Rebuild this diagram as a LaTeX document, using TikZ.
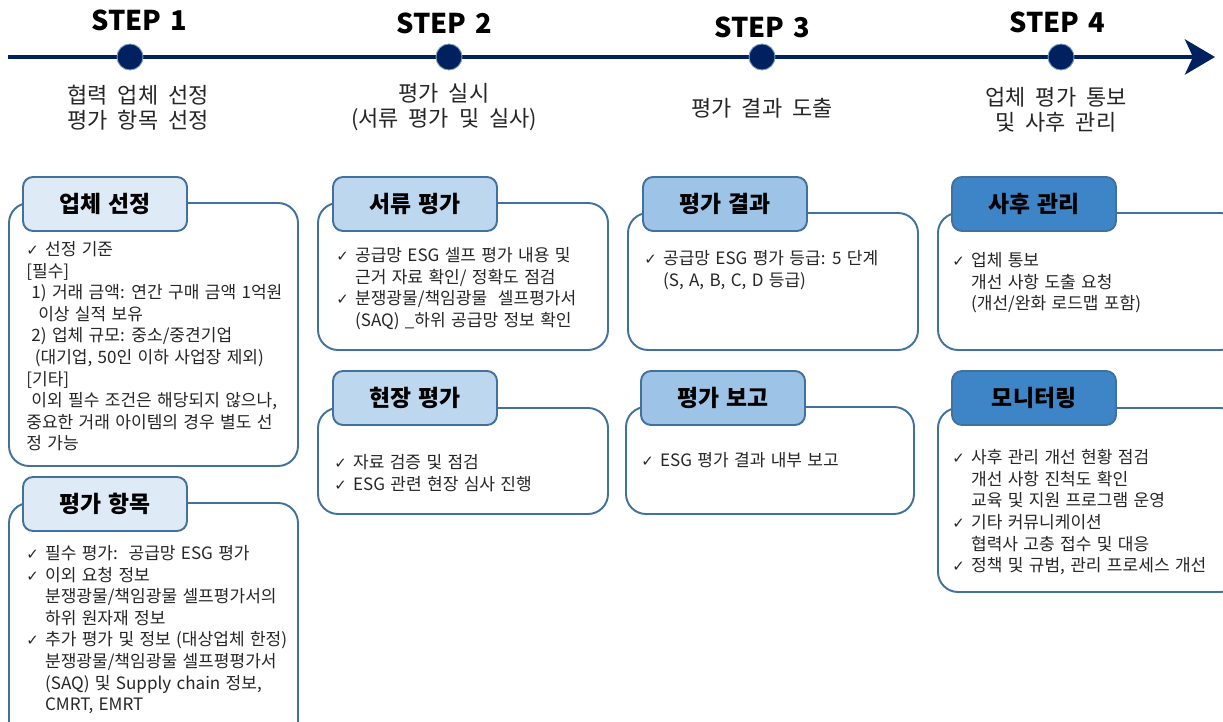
\documentclass[tikz,border=0pt]{standalone}
\usepackage{fontspec}
\setmainfont[WordSpace=1.4]{Noto Sans CJK KR}
\newfontfamily\notefont[WordSpace=2]{Noto Sans CJK KR}
\newfontfamily\symfont{DejaVu Sans}
\usetikzlibrary{arrows.meta}

\definecolor{navy}{HTML}{002060}
\definecolor{edge}{HTML}{41719C}
\definecolor{tabA}{HTML}{DEEBF7}
\definecolor{tabB}{HTML}{BDD7EE}
\definecolor{tabC}{HTML}{9DC3E6}
\definecolor{tabD}{HTML}{3D85C6}

\newcommand{\ck}{\makebox[1.1em][l]{\symfont\fontsize{8.5}{8}\selectfont ✓}}
\newcommand{\ind}{\hspace*{1.1em}}

\tikzset{
  panel/.style={draw=edge, line width=1.1pt, rounded corners=0.4cm, fill=white},
  tabbox/.style={draw=edge, line width=1.1pt, rounded corners=0.2cm,
    minimum width=3.28cm, minimum height=1.08cm, inner sep=0pt,
    font=\fontsize{13}{15}\selectfont\bfseries},
  itemtext/.style={anchor=north west, inner sep=0pt, align=left,
    text=black!85, font=\fontsize{9.7}{12.3}\selectfont},
  steplabel/.style={font=\fontsize{15.5}{18}\selectfont\bfseries},
  stepnote/.style={align=center, text=black!85, font=\notefont\fontsize{12.5}{14.2}\selectfont},
  stepdot/.style={circle, fill=navy, draw=edge!70, line width=0.5pt,
    minimum size=0.52cm, inner sep=0pt},
}

\begin{document}
\begin{tikzpicture}[x=0.02cm, y=-0.02cm]
    \useasboundingbox (0,0) rectangle (1223,722);
    \clip (0,0) rectangle (1223,722);

    % timeline
    \coordinate (start) at (8,57);
    \coordinate (tip) at (1215,57);
    \draw[navy, line width=2.8pt, -{Stealth[length=0.6cm, width=0.7cm, inset=0.16cm]}] (start) -- (tip);

    \foreach \x/\n/\lx/\ly in {130/1/139/20, 449/2/444/23, 762/3/762/27, 1061/4/1057/22}{
        \node[stepdot] (dot\n) at (\x,57) {};
        \node[steplabel] (step\n) at (\lx,\ly) {STEP \n};
    }

    \node[stepnote] (note1) at (138,108) {협력 업체 선정\\평가 항목 선정};
    \node[stepnote] (note2) at (444,107) {평가 실시\\(서류 평가 및 실사)};
    \node[stepnote] (note3) at (762,108) {평가 결과 도출};
    \node[stepnote] (note4) at (1056,110) {업체 평가 통보\\및 사후 관리};

    % column 1
    \draw[panel] (9,203) rectangle (298,466);
    \node[tabbox, fill=tabA] (select) at (105,204) {업체 선정};
    \node[itemtext] (selecttxt) at (26,241) {\ck 선정 기준\\
        {[}필수{]}\\
        \hspace*{0.3em}1) 거래 금액: 연간 구매 금액 1억원\\
        \hspace*{0.7em}이상 실적 보유\\
        \hspace*{0.3em}2) 업체 규모: 중소/중견기업\\
        \hspace*{0.5em}(대기업, 50인 이하 사업장 제외)\\
        {[}기타{]}\\
        \hspace*{0.3em}이외 필수 조건은 해당되지 않으나,\\
        중요한 거래 아이템의 경우 별도 선\\
        정 가능};

    \draw[panel] (9,503) rectangle (298,760);
    \node[tabbox, fill=tabA] (items) at (105,504) {평가 항목};
    \node[itemtext] (itemstxt) at (26,545) {\ck 필수 평가:\ \ 공급망 ESG 평가\\
        \ck 이외 요청 정보\\
        \ind 분쟁광물/책임광물 셀프평가서의\\
        \ind 하위 원자재 정보\\
        \ck 추가 평가 및 정보 (대상업체 한정)\\
        \ind 분쟁광물/책임광물 셀프평평가서\\
        \ind (SAQ) 및 Supply chain 정보,\\
        \ind CMRT, EMRT};

    % column 2
    \draw[panel] (318,203) rectangle (608,350);
    \node[tabbox, fill=tabB] (docs) at (415,204) {서류 평가};
    \node[itemtext] (docstxt) at (336,247) {\ck 공급망 ESG 셀프 평가 내용 및\\
        \ind 근거 자료 확인/ 정확도 점검\\
        \ck 분쟁광물/책임광물\ \ 셀프평가서\\
        \ind (SAQ) \_하위 공급망 정보 확인};

    \draw[panel] (318,408) rectangle (608,514);
    \node[tabbox, fill=tabB] (site) at (415,398) {현장 평가};
    \node[itemtext] (sitetxt) at (334,454) {\ck 자료 검증 및 점검\\
        \ck ESG 관련 현장 심사 진행};

    % column 3
    \draw[panel] (628,213) rectangle (918,350);
    \node[tabbox, fill=tabC] (result) at (725,204) {평가 결과};
    \node[itemtext] (resulttxt) at (644,250) {\ck 공급망 ESG 평가 등급: 5 단계\\
        \ind (S, A, B, C, D 등급)};

    \draw[panel] (626,407) rectangle (914,514);
    \node[tabbox, fill=tabC] (report) at (723,398) {평가 보고};
    \node[itemtext] (reporttxt) at (641,452) {\ck ESG 평가 결과 내부 보고};

    % column 4
    \draw[panel] (938,213) rectangle (1240,350);
    \node[tabbox, fill=tabD] (follow) at (1034,204) {사후 관리};
    \node[itemtext] (followtxt) at (952,252) {\ck 업체 통보\\
        \ind 개선 사항 도출 요청\\
        \ind (개선/완화 로드맵 포함)};

    \draw[panel] (938,408) rectangle (1240,592);
    \node[tabbox, fill=tabD] (monitor) at (1034,398) {모니터링};
    \node[itemtext] (monitortxt) at (952,449) {\ck 사후 관리 개선 현황 점검\\
        \ind 개선 사항 진척도 확인\\
        \ind 교육 및 지원 프로그램 운영\\
        \ck 기타 커뮤니케이션\\
        \ind 협력사 고충 접수 및 대응\\
        \ck 정책 및 규범, 관리 프로세스 개선};
\end{tikzpicture}
\end{document}
